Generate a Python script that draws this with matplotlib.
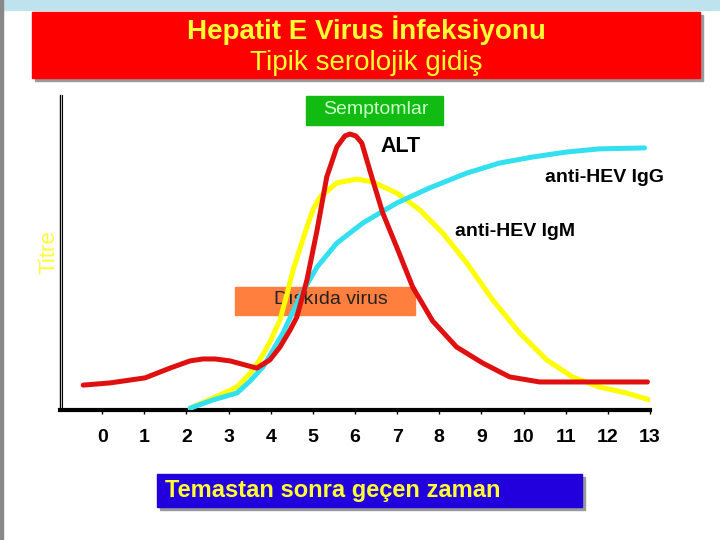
import numpy as np
import matplotlib.pyplot as plt
from matplotlib.patches import Rectangle

plt.rcParams['font.family'] = ['Liberation Sans', 'DejaVu Sans']

# days after exposure (x) and relative titre (y, 0-100)
alt_days = [-0.45, 0.19, 1.02, 1.61, 2.09, 2.39, 2.68, 3.03, 3.39, 3.67, 3.98, 4.22,
            4.46, 4.62, 4.86, 5.10, 5.33, 5.57, 5.76, 5.88, 6.02, 6.16, 6.42, 6.66,
            6.99, 7.37, 7.84, 8.41, 9.03, 9.67, 10.38, 11.09, 12.94]
alt_titre = [7.9, 8.6, 10.2, 13.3, 15.6, 16.2, 16.2, 15.6, 14.3, 13.3, 15.9, 20.0,
             25.4, 29.5, 41.3, 57.1, 74.0, 83.5, 87.0, 87.6, 87.0, 84.8, 73.0, 62.5,
             51.7, 39.0, 28.3, 20.0, 14.9, 10.5, 8.9, 8.9, 8.9]

igm_days = [2.09, 2.63, 3.20, 3.51, 3.74, 3.98, 4.22, 4.38, 4.53, 4.86, 5.00, 5.17,
            5.57, 6.04, 6.42, 6.99, 7.54, 8.08, 8.65, 9.27, 9.91, 10.55, 11.16,
            11.80, 12.44, 12.99]
igm_titre = [0.6, 3.8, 7.3, 11.7, 15.9, 21.6, 28.6, 36.5, 44.4, 58.1, 63.5, 67.6,
             72.1, 73.3, 72.4, 68.9, 63.5, 56.2, 46.7, 34.9, 24.4, 15.9, 10.5,
             7.3, 5.4, 3.2]

igg_days = [2.09, 2.63, 3.20, 3.51, 3.82, 4.29, 4.69, 5.10, 5.57, 6.19, 6.99, 7.77,
            8.65, 9.43, 10.21, 11.02, 11.80, 12.87]
igg_titre = [0.6, 3.2, 5.4, 9.2, 13.7, 24.4, 35.9, 45.4, 53.0, 59.4, 65.7, 70.5,
             75.2, 78.4, 80.3, 81.9, 82.9, 83.2]

ticks = list(range(14))

fig = plt.figure(figsize=(7.2, 5.4), dpi=100)
W, H = 720, 540

def fbox(x0, y0, x1, y1):
    # pixel box (top-left origin) -> figure fraction
    return x0 / W, 1 - y1 / H, (x1 - x0) / W, (y1 - y0) / H

# background decorations
fig.patches.append(Rectangle((0, 1 - 10 / H), 1, 10 / H, transform=fig.transFigure,
                             color='#bfe3ee', zorder=0))
fig.patches.append(Rectangle((0, 0), 3 / W, 1, transform=fig.transFigure,
                             color='#888888', zorder=0))

# title banner
x, y, w, h = fbox(35, 15, 703, 81)
fig.patches.append(Rectangle((x, y), w, h, transform=fig.transFigure, color='#9a9a9a', zorder=1))
x, y, w, h = fbox(32, 12, 700, 78)
fig.patches.append(Rectangle((x, y), w, h, transform=fig.transFigure, color='#ff0000', zorder=2))
fig.text(366 / W, 1 - 30 / H, 'Hepatit E Virus İnfeksiyonu', color='#ffff33',
         fontsize=20, fontweight='bold', ha='center', va='center', zorder=3)
fig.text(366 / W, 1 - 63 / H, 'Tipik serolojik gidiş', color='#ffff33',
         fontsize=20, ha='center', va='center', zorder=3)

ax = fig.add_axes([60 / W, 1 - 410 / H, 590 / W, 315 / H])
ax.set_facecolor('white')

# orange box behind curves
x, y, w, h = fbox(235, 287, 415, 315)
ax.add_patch(Rectangle((x, y), w, h, transform=fig.transFigure, color='#ff7f3f',
                       zorder=1, clip_on=False))
ax.text(331 / W, 1 - 300 / H, 'Dışkıda virus', transform=fig.transFigure, color='#222222',
        fontsize=14, ha='center', va='center', zorder=1.5)

kw = dict(lw=3.6, solid_joinstyle='round', solid_capstyle='round')
ax.plot(igm_days, igm_titre, color='#ffff00', zorder=3, **kw)
ax.plot(igg_days, igg_titre, color='#33e0f0', zorder=4, **kw)
ax.plot(alt_days, alt_titre, color='#e01010', zorder=5, **kw)

ax.set_xlim(-1, 13)
ax.set_ylim(0, 100)
ax.set_xticks(ticks)
ax.set_xticklabels([str(t) for t in ticks], fontsize=14, fontweight='bold')
ax.tick_params(axis='x', length=3, pad=11, width=1)
ax.set_yticks([])
for s in ['top', 'right']:
    ax.spines[s].set_visible(False)
ax.spines['bottom'].set_linewidth(3)
ax.spines['left'].set_linewidth(1)
ax.axvline(-0.95, color='black', lw=0.8)

ax.text(380 / W, 1 - 147 / H, 'ALT', transform=fig.transFigure, fontsize=15.5,
        fontweight='bold', va='center', ha='left')
ax.text(545 / W, 1 - 178 / H, 'anti-HEV IgG', transform=fig.transFigure, fontsize=14,
        fontweight='bold', va='center', ha='left')
ax.text(455 / W, 1 - 231 / H, 'anti-HEV IgM', transform=fig.transFigure, fontsize=14,
        fontweight='bold', va='center', ha='left')

# green symptom box
x, y, w, h = fbox(306, 96, 443, 125)
fig.patches.append(Rectangle((x, y), w, h, transform=fig.transFigure, color='#11bb11', zorder=6))
fig.text(376 / W, 1 - 109 / H, 'Semptomlar', color='#ccffcc', fontsize=14,
         ha='center', va='center', zorder=7)

fig.text(49 / W, 1 - 252 / H, 'Titre', color='#ffff33', fontsize=16, rotation=90,
         ha='center', va='center')

# bottom label box
x, y, w, h = fbox(160, 477, 585, 510)
fig.patches.append(Rectangle((x, y), w, h, transform=fig.transFigure, color='#9a9a9a', zorder=1))
x, y, w, h = fbox(157, 474, 582, 507)
fig.patches.append(Rectangle((x, y), w, h, transform=fig.transFigure, color='#2200dd', zorder=2))
fig.text(165 / W, 1 - 491 / H, 'Temastan sonra geçen zaman', color='#ffff33',
         fontsize=17, fontweight='bold', ha='left', va='center', zorder=3)

fig.savefig('out.png', dpi=100)
